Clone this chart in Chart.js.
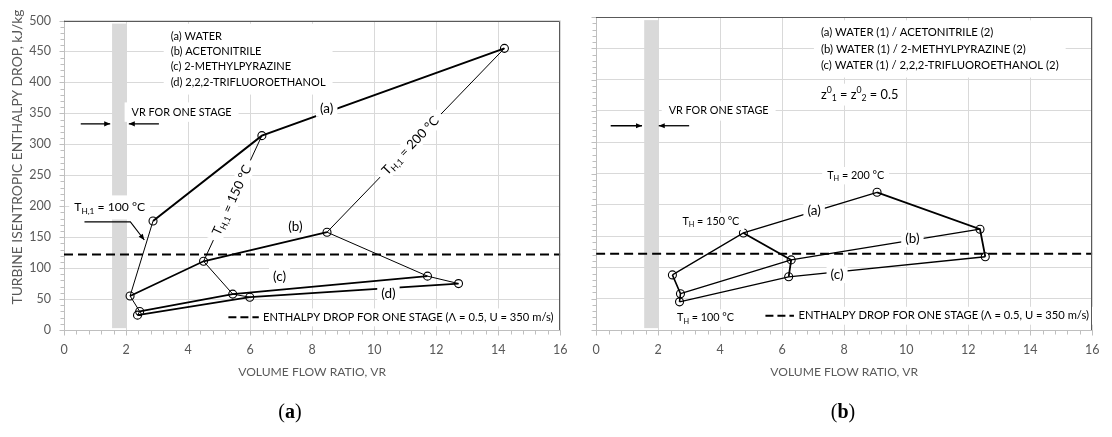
<!DOCTYPE html>
<html>
<head>
<meta charset="utf-8">
<script src="https://cdn.jsdelivr.net/npm/chart.js@4.4.1/dist/chart.umd.min.js"></script>
<style>
  html, body { margin:0; padding:0; background:#ffffff; }
  body { width:1112px; height:437px; position:relative; overflow:hidden; }
  canvas { position:absolute; top:0; }
  #left { left:0; }
  #right { left:580px; }
</style>
</head>
<body>
<canvas id="left" width="580" height="437"></canvas>
<canvas id="right" width="532" height="437"></canvas>
<script>
// ---------------- data ----------------
const xTickValues = [0, 2, 4, 6, 8, 10, 12, 14, 16];
const xTickLabels = ['0', '2', '4', '6', '8', '10', '12', '14', '16'];
const yTickValues = [0, 50, 100, 150, 200, 250, 300, 350, 400, 450, 500];
const yTickLabels = ['0', '50', '100', '150', '200', '250', '300', '350', '400', '450', '500'];

const heatSourceTempC = [100, 150, 200];

// (a) pure working fluids: VR and isentropic enthalpy drop (kJ/kg) at T_H,1 = 100/150/200 °C
const waterVR = [2.87, 6.38, 14.2];
const waterDH = [176, 314, 455];
const acetonitrileVR = [2.13, 4.50, 8.48];
const acetonitrileDH = [55, 111, 158];
const methylpyrazineVR = [2.44, 5.44, 11.72];
const methylpyrazineDH = [30, 58, 87];
const trifluoroethanolVR = [2.37, 5.99, 12.72];
const trifluoroethanolDH = [24, 53, 75];

// (b) water (1) / organic (2) mixtures, z1 = z2 = 0.5
const mixAcetonitrileVR = [2.46, 4.75, 9.06];
const mixAcetonitrileDH = [88, 155, 220];
const mixMethylpyrazineVR = [2.72, 6.29, 12.38];
const mixMethylpyrazineDH = [58, 112, 161];
const mixTrifluoroethanolVR = [2.69, 6.21, 12.55];
const mixTrifluoroethanolDH = [45, 85, 117];

// one-stage limits
const oneStageDH = 122;
const oneStageVR = [1.55, 2.0];
const oneStageBandDH = [3, 495];

// ---------------- helpers ----------------
const FONT = 'Lato, "Open Sans", sans-serif';
const TXT = '#000000';
const AXC = '#595959';

function curve(vr, dh) { return vr.map((v, i) => ({ x: v, y: dh[i] })); }
function isotherm(k, list) { return list.map(([vr, dh]) => ({ x: vr[k], y: dh[k] })); }

function curveDS(vr, dh, w) {
  return { data: curve(vr, dh), showLine: true, borderColor: '#000', borderWidth: w,
    pointRadius: 4, pointHoverRadius: 4, pointBorderWidth: 1.1, pointBorderColor: '#000',
    pointBackgroundColor: 'rgba(255,255,255,0)', pointStyle: 'circle' };
}
function isoDS(data, w) {
  return { data, showLine: true, borderColor: '#000', borderWidth: w, pointRadius: 0, pointHoverRadius: 0 };
}
function stageDS() {
  return { data: [{ x: xTickValues[0], y: oneStageDH }, { x: xTickValues[xTickValues.length - 1], y: oneStageDH }],
    showLine: true, borderColor: '#000', borderWidth: 2, borderDash: [9, 5], pointRadius: 0, pointHoverRadius: 0 };
}

function P(chart, x, y) { return { x: chart.scales.x.getPixelForValue(x), y: chart.scales.y.getPixelForValue(y) }; }

function partsWidth(ctx, parts, size, weight) {
  let w = 0;
  for (const [t, m] of parts) {
    ctx.font = `${weight || 'normal'} ${m ? size * 0.68 : size}px ${FONT}`;
    w += ctx.measureText(t).width;
  }
  return w;
}
function fitSize(ctx, parts, target) { return target * 100 / partsWidth(ctx, parts, 100); }
function drawParts(ctx, parts, x, y, size, align, color, bg, pad) {
  const w = partsWidth(ctx, parts, size);
  let sx = align === 'center' ? x - w / 2 : align === 'right' ? x - w : x;
  if (bg) {
    ctx.fillStyle = '#ffffff';
    ctx.fillRect(sx - pad[0], y - size * 0.62 - pad[1], w + 2 * pad[0], size * 1.24 + 2 * pad[1]);
  }
  ctx.fillStyle = color; ctx.textBaseline = 'middle'; ctx.textAlign = 'left';
  for (const [t, m] of parts) {
    const s = m ? size * 0.68 : size;
    ctx.font = `${s}px ${FONT}`;
    const dy = m === 'sub' ? size * 0.3 : m === 'sup' ? -size * 0.32 : 0;
    ctx.fillText(t, sx, y + dy);
    sx += ctx.measureText(t).width;
  }
  return w;
}
function plain(t) { return [[t, '']]; }

function arrowLine(ctx, pts, width) {
  ctx.save();
  ctx.strokeStyle = '#000'; ctx.fillStyle = '#000'; ctx.lineWidth = width; ctx.setLineDash([]);
  ctx.beginPath(); ctx.moveTo(pts[0].x, pts[0].y);
  for (let i = 1; i < pts.length; i++) ctx.lineTo(pts[i].x, pts[i].y);
  ctx.stroke();
  const a = pts[pts.length - 2], b = pts[pts.length - 1];
  const ang = Math.atan2(b.y - a.y, b.x - a.x);
  const L = 6, H = 2.6;
  ctx.beginPath();
  ctx.moveTo(b.x, b.y);
  ctx.lineTo(b.x - L * Math.cos(ang) + H * Math.sin(ang), b.y - L * Math.sin(ang) - H * Math.cos(ang));
  ctx.lineTo(b.x - L * Math.cos(ang) - H * Math.sin(ang), b.y - L * Math.sin(ang) + H * Math.cos(ang));
  ctx.closePath(); ctx.fill();
  ctx.restore();
}

function rotatedLabel(ctx, parts, a, b, t, size) {
  const cx = a.x + (b.x - a.x) * t, cy = a.y + (b.y - a.y) * t;
  const ang = Math.atan2(b.y - a.y, b.x - a.x);
  ctx.save(); ctx.translate(cx, cy); ctx.rotate(ang);
  drawParts(ctx, parts, 0, 0, size, 'center', TXT, true, [6, 0]);
  ctx.restore();
}

function textBlock(ctx, lines, x, ys, size, pad) {
  let maxW = 0;
  for (const l of lines) maxW = Math.max(maxW, partsWidth(ctx, l, size));
  ctx.fillStyle = '#fff';
  const top = Math.min(...ys) - size * 0.65 - pad[1];
  const bot = Math.max(...ys) + size * 0.65 + pad[1];
  ctx.fillRect(x - pad[0], top, maxW + 2 * pad[0], bot - top);
  lines.forEach((l, i) => drawParts(ctx, l, x, ys[i], size, 'left', TXT, false));
}

function frameAndTicks(chart) {
  const { ctx, chartArea: ca } = chart;
  const xs = chart.scales.x, ys = chart.scales.y;
  ctx.save();
  ctx.strokeStyle = '#bfbfbf'; ctx.lineWidth = 1; ctx.setLineDash([]);
  ctx.beginPath();
  const bx = Math.round(ca.bottom) + 0.5;
  for (let i = 0; i <= 40; i++) {
    const v = xs.min + (xs.max - xs.min) * i / 40;
    const p = Math.round(xs.getPixelForValue(v)) + 0.5;
    ctx.moveTo(p, bx); ctx.lineTo(p, bx + (i % 5 === 0 ? 5 : 4));
  }
  const lx = Math.round(ca.left) + 0.5;
  for (let i = 0; i <= 50; i++) {
    const v = ys.min + (ys.max - ys.min) * i / 50;
    const p = Math.round(ys.getPixelForValue(v)) + 0.5;
    ctx.moveTo(lx, p); ctx.lineTo(lx - (i % 5 === 0 ? 5 : 4), p);
  }
  ctx.stroke();
  ctx.strokeStyle = '#595959';
  ctx.beginPath();
  const tY = Math.round(ca.top) + 0.5, rX = Math.round(ca.right) - 0.5;
  ctx.moveTo(Math.round(ca.left), tY); ctx.lineTo(rX, tY); ctx.lineTo(rX, Math.round(ca.bottom));
  ctx.stroke();
  ctx.restore();
}

function axisTitles(chart, captionLetter, captionX) {
  const { ctx, chartArea: ca } = chart;
  ctx.save();
  const xt = plain('VOLUME FLOW RATIO, VR');
  drawParts(ctx, xt, (ca.left + ca.right) / 2, 372, fitSize(ctx, xt, 148), 'center', AXC, false);
  // caption
  ctx.fillStyle = '#000'; ctx.textBaseline = 'middle'; ctx.textAlign = 'left';
  const serif = '"Liberation Serif", "DejaVu Serif", serif';
  ctx.font = `20px ${serif}`; const wp = ctx.measureText('(').width;
  ctx.font = `bold 20px ${serif}`; const wl = ctx.measureText(captionLetter).width;
  let sx = captionX - (2 * wp + wl) / 2;
  const cy = 413;
  ctx.font = `20px ${serif}`; ctx.fillText('(', sx, cy); sx += wp;
  ctx.font = `bold 20px ${serif}`; ctx.fillText(captionLetter, sx, cy); sx += wl;
  ctx.font = `20px ${serif}`; ctx.fillText(')', sx, cy);
  ctx.restore();
}

function bandDraw(chart) {
  const { ctx } = chart;
  const a = P(chart, oneStageVR[0], oneStageBandDH[1]);
  const b = P(chart, oneStageVR[1], oneStageBandDH[0]);
  ctx.save(); ctx.fillStyle = '#d9d9d9';
  ctx.fillRect(a.x, a.y, b.x - a.x, b.y - a.y);
  ctx.restore();
}

function stageLegend(chart, dashX0, dashX1, textX, y) {
  const { ctx } = chart;
  const p0 = P(chart, dashX0, y), p1 = P(chart, dashX1, y), pt = P(chart, textX, y);
  const parts = plain('ENTHALPY DROP FOR ONE STAGE (\u039B = 0.5, U = 350 m/s)');
  const size = fitSize(ctx, parts, 291);
  drawParts(ctx, parts, pt.x, pt.y, size, 'left', TXT, true, [4, 2]);
  ctx.save(); ctx.strokeStyle = '#000'; ctx.lineWidth = 2; ctx.setLineDash([8, 4]);
  ctx.beginPath(); ctx.moveTo(p0.x, p0.y); ctx.lineTo(p1.x, p1.y); ctx.stroke(); ctx.restore();
}

function vrStage(chart, textX, textY, arrowY, a0, a1, b0, b1) {
  const { ctx } = chart;
  const parts = plain('VR FOR ONE STAGE');
  const pt = P(chart, textX, textY);
  drawParts(ctx, parts, pt.x, pt.y, fitSize(ctx, parts, 100), 'left', TXT, true, [7, 3]);
  arrowLine(ctx, [P(chart, a0, arrowY), P(chart, a1, arrowY)], 1.3);
  arrowLine(ctx, [P(chart, b0, arrowY), P(chart, b1, arrowY)], 1.3);
}

function inlineLabel(chart, text, x, y, size) {
  const p = P(chart, x, y);
  drawParts(chart.ctx, plain(text), p.x, p.y, size, 'center', TXT, true, [4, 0]);
}

// ---------------- scales ----------------
function scales(showY, yWidth) {
  return {
    x: {
      type: 'linear', min: xTickValues[0], max: xTickValues[xTickValues.length - 1],
      ticks: { stepSize: 2, padding: 12.5, color: AXC, font: { family: FONT, size: 12.5 }, maxRotation: 0, autoSkip: false,
        callback: (v) => { const i = xTickValues.indexOf(v); return i >= 0 ? xTickLabels[i] : ''; } },
      grid: { color: '#d9d9d9', lineWidth: 1, drawTicks: false },
      border: { color: '#bfbfbf', width: 1 },
      afterFit: (s) => { s.height = 107; }
    },
    y: {
      type: 'linear', min: yTickValues[0], max: yTickValues[yTickValues.length - 1],
      ticks: { display: showY, stepSize: 50, padding: 13, color: AXC, font: { family: FONT, size: 12.5 },
        callback: (v) => { const i = yTickValues.indexOf(v); return i >= 0 ? yTickLabels[i] : ''; } },
      grid: { color: '#d9d9d9', lineWidth: 1, drawTicks: false },
      border: { color: '#bfbfbf', width: 1 },
      afterFit: (s) => { s.width = yWidth; }
    }
  };
}

const baseOptions = (showY, yWidth, padRight) => ({
  responsive: false, animation: false, devicePixelRatio: 1,
  layout: { padding: { left: 0, top: 17, right: padRight, bottom: 0 } },
  plugins: { legend: { display: false }, tooltip: { enabled: false } },
  events: [],
  scales: scales(showY, yWidth)
});

// ---------------- left chart (a) ----------------
const leftFluids = [[waterVR, waterDH], [acetonitrileVR, acetonitrileDH], [methylpyrazineVR, methylpyrazineDH], [trifluoroethanolVR, trifluoroethanolDH]];

const leftPlugin = {
  id: 'leftNotes',
  beforeDatasetsDraw(chart) {
    const { ctx } = chart;
    bandDraw(chart);
    // T_H,1 = 100 °C label with connector
    const parts = [['T', ''], ['H,1', 'sub'], [' = 100 \u00B0C', '']];
    const p = P(chart, 0.33, 198);
    drawParts(ctx, parts, p.x, p.y, fitSize(ctx, parts, 71), 'left', TXT, true, [5, 4.5]);
    arrowLine(ctx, [P(chart, 0.66, 174.6), P(chart, 2.14, 174.6), P(chart, 2.59, 145.4)], 1.1);
  },
  afterDatasetsDraw(chart) {
    const { ctx } = chart;
    // legend block
    const lines = [plain('(a) WATER'), plain('(b) ACETONITRILE'), plain('(c) 2-METHYLPYRAZINE'), plain('(d) 2,2,2-TRIFLUOROETHANOL')];
    const lx = P(chart, 3.44, 0).x;
    const yy = [475, 450, 425, 400].map(v => P(chart, 0, v).y);
    textBlock(ctx, lines, lx, yy, fitSize(ctx, lines[3], 155), [7, 5]);
    vrStage(chart, 2.18, 352, 333, 0.54, 1.49, 3.06, 2.09);
    inlineLabel(chart, '(a)', 8.47, 358, 13.5);
    inlineLabel(chart, '(b)', 7.46, 166.6, 13.5);
    inlineLabel(chart, '(c)', 6.95, 86.7, 13.5);
    inlineLabel(chart, '(d)', 10.46, 59, 13.5);
    rotatedLabel(ctx, [['T', ''], ['H,1', 'sub'], [' = 150 \u00B0C', '']],
      P(chart, acetonitrileVR[1], acetonitrileDH[1]), P(chart, waterVR[1], waterDH[1]), 0.486, 13);
    rotatedLabel(ctx, [['T', ''], ['H,1', 'sub'], [' = 200 \u00B0C', '']],
      P(chart, acetonitrileVR[2], acetonitrileDH[2]), P(chart, waterVR[2], waterDH[2]), 0.471, 13);
    stageLegend(chart, 5.3, 6.28, 6.42, 20.4);
    frameAndTicks(chart);
  },
  afterDraw(chart) {
    const { ctx } = chart;
    axisTitles(chart, 'a', 290);
    const t = plain('TURBINE ISENTROPIC ENTHALPY DROP, kJ/kg');
    ctx.save(); ctx.translate(18, 157); ctx.rotate(-Math.PI / 2);
    drawParts(ctx, t, 0, 0, fitSize(ctx, t, 295), 'center', AXC, false);
    ctx.restore();
  }
};

new Chart(document.getElementById('left'), {
  type: 'scatter',
  data: {
    datasets: [
      curveDS(waterVR, waterDH, 2),
      curveDS(acetonitrileVR, acetonitrileDH, 1.8),
      curveDS(methylpyrazineVR, methylpyrazineDH, 1.7),
      curveDS(trifluoroethanolVR, trifluoroethanolDH, 1.7),
      isoDS(isotherm(0, leftFluids), 1),
      isoDS(isotherm(1, leftFluids), 1),
      isoDS(isotherm(2, leftFluids), 1),
      stageDS()
    ]
  },
  options: baseOptions(true, 64, 9.5),
  plugins: [leftPlugin]
});

// ---------------- right chart (b) ----------------
const rightMixtures = [[mixAcetonitrileVR, mixAcetonitrileDH], [mixMethylpyrazineVR, mixMethylpyrazineDH], [mixTrifluoroethanolVR, mixTrifluoroethanolDH]];

const rightPlugin = {
  id: 'rightNotes',
  beforeDatasetsDraw(chart) { bandDraw(chart); },
  afterDatasetsDraw(chart) {
    const { ctx } = chart;
    const lines = [plain('(a) WATER (1) / ACETONITRILE (2)'), plain('(b) WATER (1) / 2-METHYLPYRAZINE (2)'), plain('(c) WATER (1) / 2,2,2-TRIFLUOROETHANOL (2)')];
    const lx = P(chart, 7.25, 0).x;
    const yy = [475, 449, 423].map(v => P(chart, 0, v).y);
    textBlock(ctx, lines, lx, yy, fitSize(ctx, lines[2], 238), [7, 5]);
    const z = [['z', ''], ['0', 'sup'], ['1', 'sub'], [' = z', ''], ['0', 'sup'], ['2', 'sub'], [' = 0.5', '']];
    const pz = P(chart, 7.25, 376);
    drawParts(ctx, z, pz.x, pz.y, fitSize(ctx, z, 77.5), 'left', TXT, true, [6, 3]);
    vrStage(chart, 2.34, 350, 326.3, 0.47, 1.48, 3.0, 2.02);
    const th = (t) => [['T', ''], ['H', 'sub'], [' = ' + t + ' \u00B0C', '']];
    const labels = [[th(heatSourceTempC[2]), 8.37, 246.5], [th(heatSourceTempC[1]), 3.70, 173.5], [th(heatSourceTempC[0]), 3.53, 19.2]];
    for (const [parts, x, y] of labels) {
      const p = P(chart, x, y);
      drawParts(ctx, parts, p.x, p.y, fitSize(ctx, parts, 57), 'center', TXT, true, [5, 2]);
    }
    inlineLabel(chart, '(a)', 7.03, 191, 13.5);
    inlineLabel(chart, '(b)', 10.2, 146, 13.5);
    inlineLabel(chart, '(c)', 7.77, 88.3, 13.5);
    stageLegend(chart, 5.46, 6.38, 6.53, 22.8);
    frameAndTicks(chart);
  },
  afterDraw(chart) { axisTitles(chart, 'b', 263); }
};

new Chart(document.getElementById('right'), {
  type: 'scatter',
  data: {
    datasets: [
      curveDS(mixAcetonitrileVR, mixAcetonitrileDH, 1.3),
      curveDS(mixMethylpyrazineVR, mixMethylpyrazineDH, 1.3),
      curveDS(mixTrifluoroethanolVR, mixTrifluoroethanolDH, 1.3),
      isoDS(isotherm(0, rightMixtures), 1.6),
      isoDS(isotherm(1, rightMixtures), 1.8),
      isoDS(isotherm(2, rightMixtures), 1.8),
      stageDS()
    ]
  },
  options: baseOptions(false, 14, 10.5),
  plugins: [rightPlugin]
});
</script>
</body>
</html>
